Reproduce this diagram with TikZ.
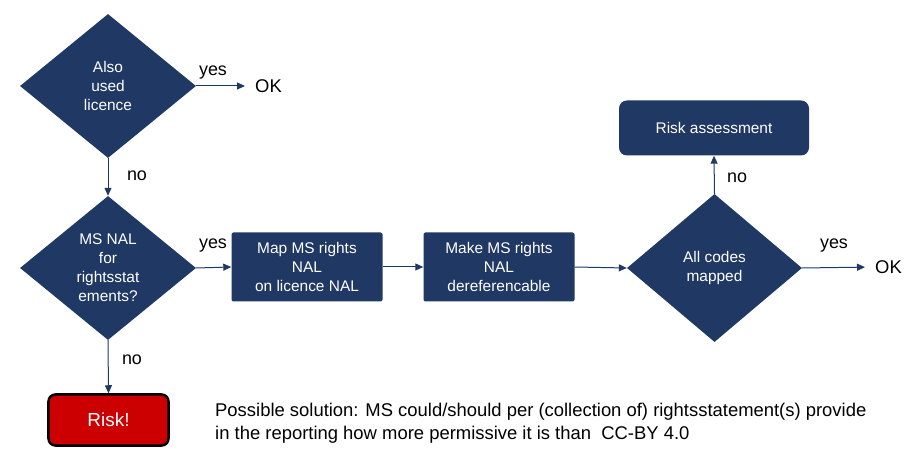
\documentclass[tikz,border=0pt]{standalone}
\usepackage{fontspec}
\setmainfont{Liberation Sans}
\usetikzlibrary{shapes.geometric}
\usetikzlibrary{arrows.meta}
\definecolor{navy}{RGB}{32,56,100}
\definecolor{riskred}{RGB}{204,0,0}
\tikzset{decision/.style={diamond, fill=navy, text=white, inner sep=0pt, align=center, minimum width=176bp, minimum height=144bp, font=\fontsize{15.5}{19}\selectfont}}
\tikzset{action/.style={rectangle, rounded corners=2bp, fill=navy, text=white, align=center, minimum width=151bp, minimum height=69bp, font=\fontsize{15.5}{19}\selectfont}}
\tikzset{flow/.style={draw=navy, line width=1bp, -{Triangle[length=8bp,width=7bp]}}}
\tikzset{answer/.style={font=\fontsize{18}{18}\selectfont}}
\tikzset{outcome/.style={font=\fontsize{18.5}{18}\selectfont, inner sep=0pt, anchor=west}}

\begin{document}
\begin{tikzpicture}[x=1bp,y=-1bp]
\useasboundingbox (0,0) rectangle (914,465);
% decisions
\node[decision] (used) at (108,86) {Also\\used\\licence};
\node[decision] (nal) at (108,268) {MS NAL\\for\\rightsstat\\ements?};
\node[decision,minimum width=175bp,minimum height=148bp] (mapped) at (714.5,268) {All codes\\mapped};
% actions
\node[action] (map) at (307,267) {Map MS rights\\NAL\\on licence NAL};
\node[action] (deref) at (499,267) {Make MS rights\\NAL\\dereferencable};
\node[action,rounded corners=8bp,minimum width=190bp,minimum height=55bp] (assess) at (714,128) {Risk assessment};
\node[rectangle, rounded corners=7bp, fill=riskred, draw=black, line width=2.5bp, text=white, minimum width=120bp, minimum height=51bp, font=\fontsize{19}{19}\selectfont] (risk) at (108.5,420) {Risk!};
% outcomes
\node[outcome] (ok1) at (255,86) {OK};
\node[outcome] (ok2) at (875,267) {OK};
% connectors
\draw[flow,shorten >=10bp] (used.east) -- (ok1.west);
\draw[flow] (used.south) -- (nal.north);
\draw[flow] (nal.east) -- (map.west);
\draw[flow] (nal.south) -- (risk.north);
\draw[flow] (map.east) -- (deref.west);
\draw[flow] (deref.east) -- (mapped.west);
\draw[flow,shorten >=10bp] (mapped.east) -- (ok2.west);
\draw[flow] (mapped.north) -- (assess.south);
% answers
\node[answer] (yes1) at (213,73) {yes};
\node[answer] (no1) at (137,176) {no};
\node[answer] (yes2) at (213,246) {yes};
\node[answer] (no2) at (132,360) {no};
\node[answer] (yes3) at (834,246) {yes};
\node[answer] (no3) at (737,178) {no};
% note
\node[anchor=base west, align=left, inner sep=0pt, font=\fontsize{18.5}{23}\selectfont] (note) at (215,439) {Possible solution: MS could/should per (collection of) rightsstatement(s) provide\\in the reporting how more permissive it is than~ CC-BY 4.0};
\end{tikzpicture}
\end{document}
